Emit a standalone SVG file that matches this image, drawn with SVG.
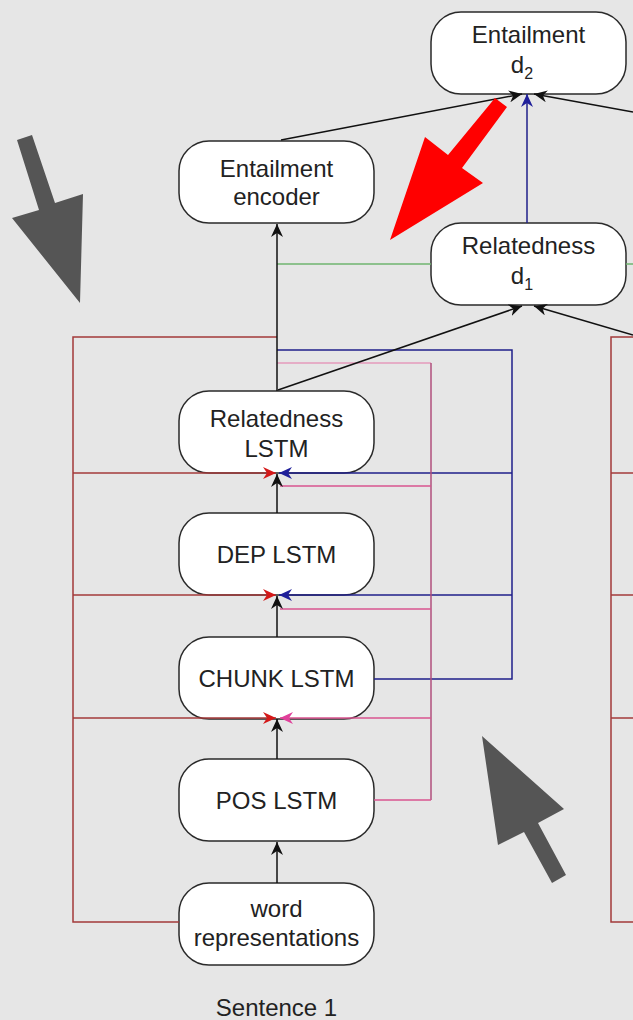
<svg xmlns="http://www.w3.org/2000/svg" width="633" height="1020" viewBox="0 0 633 1020">
  <defs>
    <style>
      .node rect { fill: #ffffff; stroke: #2a2a2a; stroke-width: 1.5; }
      .node text, .label { font-family: "Liberation Sans", Arial, sans-serif; font-size: 24px; fill: #222222; text-anchor: middle; }
      .sub { font-size: 16px; }
      .edge { fill: none; stroke-width: 1.5; }
      .blk { stroke: #111111; }
      .nav { stroke: #1f1f8a; }
      .red { stroke: #a33a3a; }
      .pnk { stroke: #d9558f; }
      .mauve { stroke: #b04f7c; }
      .lpk { stroke: #e59abb; }
      .grn { stroke: #6fb46f; }
      .pointer { fill: #555555; }
    </style>
    <marker id="mBlk" markerUnits="userSpaceOnUse" markerWidth="14" markerHeight="12" refX="13" refY="6" orient="auto">
      <path d="M0,0 L13,6 L0,12 L4,6 z" fill="#111111"/>
    </marker>
    <marker id="mNav" markerUnits="userSpaceOnUse" markerWidth="14" markerHeight="12" refX="13" refY="6" orient="auto">
      <path d="M0,0 L13,6 L0,12 L4,6 z" fill="#1f1f9a"/>
    </marker>
    <marker id="mRed" markerUnits="userSpaceOnUse" markerWidth="14" markerHeight="12" refX="13" refY="6" orient="auto">
      <path d="M0,0 L13,6 L0,12 L4,6 z" fill="#d41818"/>
    </marker>
    <marker id="mPnk" markerUnits="userSpaceOnUse" markerWidth="14" markerHeight="12" refX="13" refY="6" orient="auto">
      <path d="M0,0 L13,6 L0,12 L4,6 z" fill="#e0409a"/>
    </marker>
  </defs>

  <rect x="0" y="0" width="633" height="1020" fill="#e6e6e6"/>

  <g id="entailment-d2" class="node">
    <rect x="431" y="12" width="195" height="82" rx="30"/>
    <text x="528.5" y="43">Entailment</text>
    <text x="522" y="73">d<tspan class="sub" dy="6">2</tspan></text>
  </g>
  <g id="entailment-encoder" class="node">
    <rect x="179" y="141" width="195" height="82" rx="30"/>
    <text x="276.5" y="177">Entailment</text>
    <text x="276.5" y="205">encoder</text>
  </g>
  <g id="relatedness-d1" class="node">
    <rect x="431" y="223" width="195" height="82" rx="30"/>
    <text x="528.5" y="254">Relatedness</text>
    <text x="522" y="284">d<tspan class="sub" dy="6">1</tspan></text>
  </g>
  <g id="relatedness-lstm" class="node">
    <rect x="179" y="391" width="195" height="82" rx="30"/>
    <text x="276.5" y="427">Relatedness</text>
    <text x="276.5" y="457">LSTM</text>
  </g>
  <g id="dep-lstm" class="node">
    <rect x="179" y="513" width="195" height="82" rx="30"/>
    <text x="276.5" y="563">DEP LSTM</text>
  </g>
  <g id="chunk-lstm" class="node">
    <rect x="179" y="637" width="195" height="82" rx="30"/>
    <text x="276.5" y="687">CHUNK LSTM</text>
  </g>
  <g id="pos-lstm" class="node">
    <rect x="179" y="759" width="195" height="82" rx="30"/>
    <text x="276.5" y="809">POS LSTM</text>
  </g>
  <g id="word-representations" class="node">
    <rect x="179" y="883" width="195" height="82" rx="30"/>
    <text x="276.5" y="917">word</text>
    <text x="276.5" y="946">representations</text>
  </g>

  <!-- connectors sit above the boxes so the merge arrows on the box edges stay visible -->
  <g id="connectors">
    <!-- shortcut frame (left column) -->
    <path class="edge red" d="M277,337 H73 V922 H179"/>
    <path class="edge red" d="M73,473 H276" marker-end="url(#mRed)"/>
    <path class="edge red" d="M73,595 H276" marker-end="url(#mRed)"/>
    <path class="edge red" d="M73,718 H276" marker-end="url(#mRed)"/>
    <!-- shortcut frame (right column, cut off) -->
    <path class="edge red" d="M633,337 H611 V922 H633"/>
    <path class="edge red" d="M611,473 H633"/>
    <path class="edge red" d="M611,595 H633"/>
    <path class="edge red" d="M611,718 H633"/>

    <!-- CHUNK label feeds -->
    <path class="edge nav" d="M374,679 H512 V350 H277"/>
    <path class="edge nav" d="M512,473 H279" marker-end="url(#mNav)"/>
    <path class="edge nav" d="M512,595 H279" marker-end="url(#mNav)"/>

    <!-- POS label feeds -->
    <path class="edge lpk" d="M431,363 H277"/>
    <path class="edge mauve" d="M431,363 V800"/>
    <path class="edge pnk" d="M374,800 H431"/>
    <path class="edge pnk" d="M431,486 H280"/>
    <path class="edge pnk" d="M431,609 H280"/>
    <path class="edge pnk" d="M431,718 H280" marker-end="url(#mPnk)"/>

    <!-- green link -->
    <path class="edge grn" d="M277,264 H431"/>
    <path class="edge grn" d="M626,264 H633"/>

    <!-- vertical stack -->
    <path class="edge blk" d="M277,883 V842" marker-end="url(#mBlk)"/>
    <path class="edge blk" d="M277,759 V719" marker-end="url(#mBlk)"/>
    <path class="edge blk" d="M277,637 V596" marker-end="url(#mBlk)"/>
    <path class="edge blk" d="M277,513 V474" marker-end="url(#mBlk)"/>
    <path class="edge blk" d="M277,391 V224" marker-end="url(#mBlk)"/>

    <!-- into Relatedness d1 -->
    <path class="edge blk" d="M278,390 L522,306" marker-end="url(#mBlk)"/>
    <path class="edge blk" d="M633,335 L534,306" marker-end="url(#mBlk)"/>

    <!-- into Entailment d2 -->
    <path class="edge blk" d="M281,140 L522,94" marker-end="url(#mBlk)"/>
    <path class="edge blk" d="M633,112 L534,94" marker-end="url(#mBlk)"/>
    <path class="edge nav" d="M527,223 V94" marker-end="url(#mNav)"/>
  </g>

  <text class="label" x="276.5" y="1016">Sentence 1</text>

  <!-- callout pointers -->
  <polygon class="pointer" points="17,140 32,135 55,203 83,194 80,303 12,218 39,210"/>
  <polygon class="pointer" points="482,736 564,809 538,823 566,875 552,883 524,832 498,845"/>
  <polygon points="495,98 507,107 462,168 483,183 390,240 425,137 448,155" fill="#ff0000"/>
</svg>
